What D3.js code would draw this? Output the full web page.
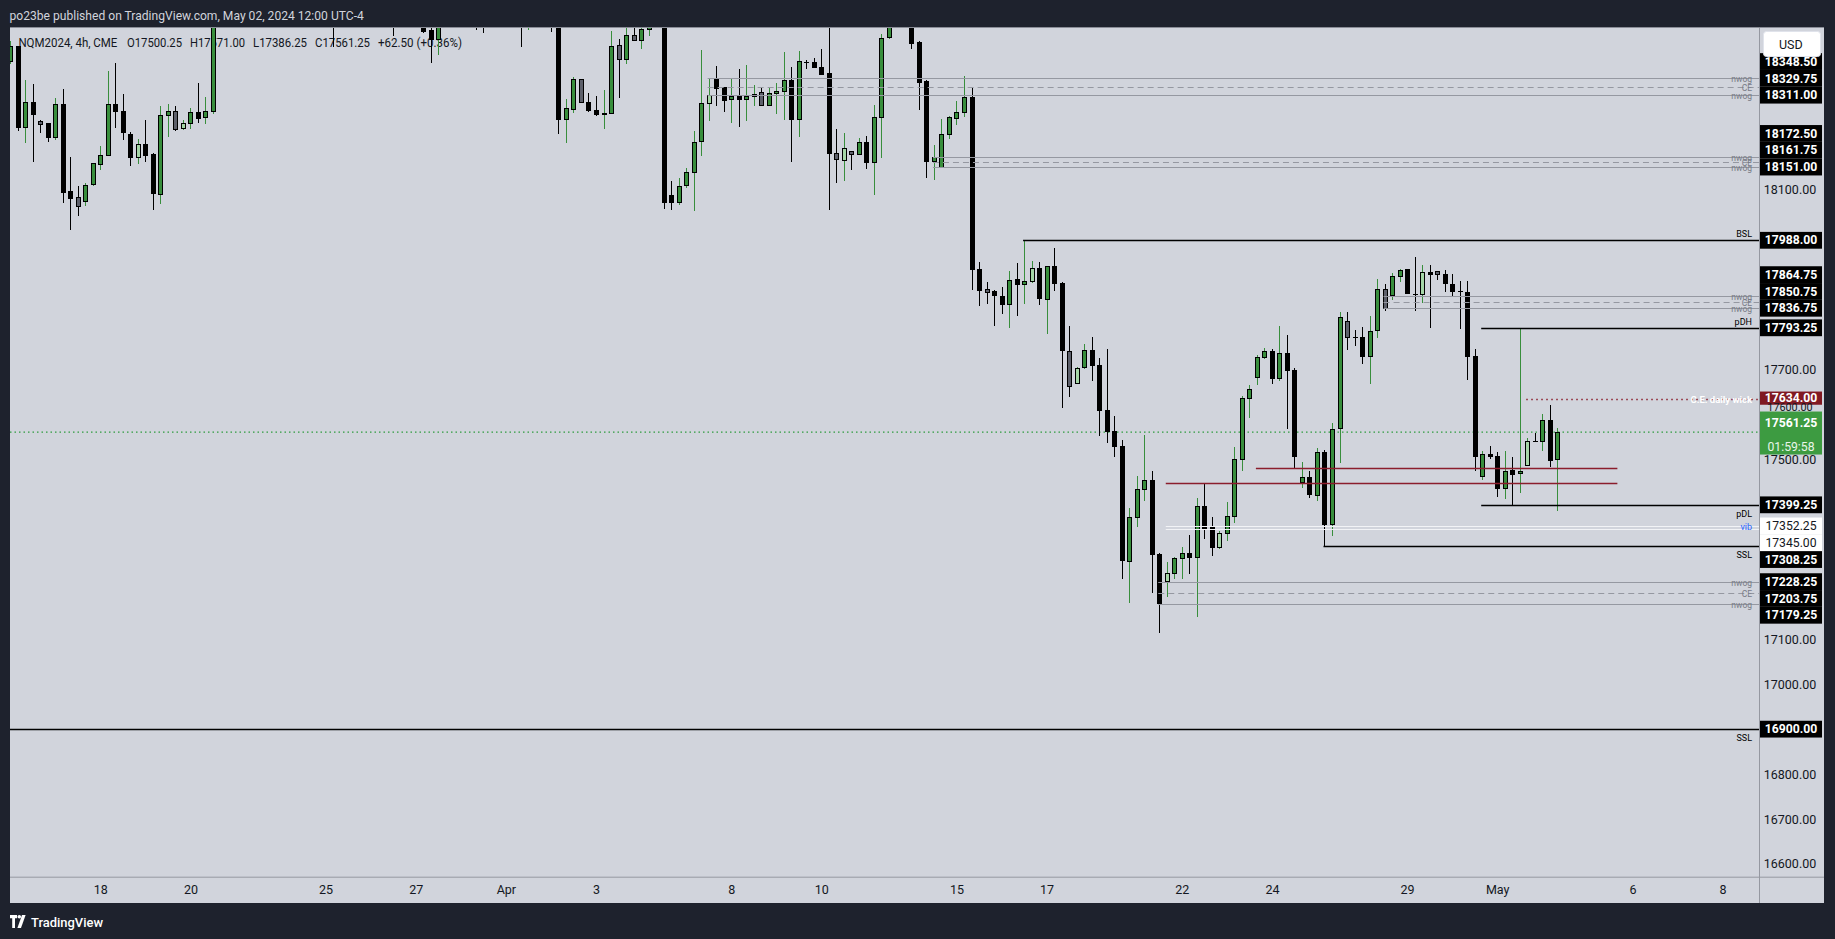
<!DOCTYPE html>
<html><head><meta charset="utf-8">
<script src="https://cdn.jsdelivr.net/npm/d3@7"></script>
<style>
html,body{margin:0;padding:0;background:#1e222d;overflow:hidden}
text{font-family:Roboto,"Noto Sans",sans-serif}
</style></head>
<body><svg id="c" width="1835" height="939"></svg>
<script>
// ---------------- DATA ----------------
const symbolInfo = "NQM2024, 4h, CME";
const publishInfo = "po23be published on TradingView.com, May 02, 2024 12:00 UTC-4";
const countdown = "01:59:58";

const opens = [18386.5,18419.75,18238.75,18295,18252.75,18247,18217.25,18290.75,18095.5,18083.75,
18074.75,18112.5,18157,18177.25,18290.75,18275,18224,18172.75,18201.75,18180,
18090.5,18266.25,18275,18235.75,18248.5,18273,18261.75,18275,18480,18550,
18600,18625,18670,18630,18600,18585,18575,18600,18570,18620,
18590,18555,18530,18500,18480,18530,18545,18560,18550,18590,
18575,18530,18475,18490,18495,18480,18454.5,18434,18515,18530,
18525,18545,18560,18495,18490,18530,18550,18540,18560,18490,
18530,18490,18495,18480,18256.5,18279.5,18346.25,18295,18277.25,18267.75,
18270,18420.5,18390,18442.75,18432.5,18457,18485,18505,18088,18071.75,
18109.75,18138.5,18207.5,18293,18348.5,18327,18301.75,18308.5,18301.75,18307.75,
18317.5,18287.75,18315.25,18319.5,18344,18256.5,18382.75,18382.75,18373,18358.25,
18181.5,18166,18186,18179.5,18206,18160.75,18261.75,18439,18475,18495,
18480,18427.25,18340.5,18163,18151,18223.25,18258.75,18272,18306.25,17923.5,
17879,17873,17863.25,17844.75,17899.75,17890,17896,17925.5,17856.5,17930,
17892.25,17741,17669.75,17705.25,17743.25,17709.75,17609.5,17561.5,17529.5,17273.5,
17371.5,17433.75,17453.75,17289,17228.25,17246.75,17279.5,17291.5,17282.5,17396,
17351.5,17304,17335,17373,17499.75,17635.5,17682.25,17727,17741,17680,
17736.5,17698.75,17448.5,17460.5,17419.75,17516,17355.25,17569.5,17807.75,17772,
17772,17729.75,17787.5,17879,17864.75,17907.75,17923.5,17867.75,17867.75,17916.75,
17919,17912.25,17890,17874.5,17872.25,17729.75,17462,17511.5,17507.25,17435.25,
17476,17468.75,17486.5,17540.5,17540,17587.5,17500.25];
const highs = [18431.5,18421,18344,18335.25,18255,18249,18304.75,18324.75,18173.5,18108.25,
18116.25,18160,18198,18365,18382.75,18313.75,18228.5,18212.75,18255.75,18182,
18287.75,18292.25,18287,18255,18283.25,18338.25,18307,18500,18560,18610,
18640,18690,18695,18650,18620,18600,18610,18625,18630,18640,
18600,18570,18550,18520,18540,18560,18570,18575,18600,18610,
18600,18545,18500,18510,18505,18490,18475,18525,18540,18550,
18560,18575,18585,18520,18540,18560,18575,18570,18580,18540,
18545,18510,18505,18490,18302.5,18351.5,18346.25,18316,18309.25,18322.5,
18453.75,18435.5,18475,18465,18470,18495,18520,18515,18120,18126.75,
18149,18231.25,18411.5,18346.25,18376,18328.5,18347,18369.25,18378.25,18333,
18327,18328.5,18338.25,18407.25,18373.75,18409.5,18388.5,18393.75,18413.75,18480,
18235.75,18227,18187,18215,18220.25,18288.5,18446.5,18490,18510,18520,
18500,18431,18344,18199.5,18257.25,18264,18298,18353,18329.25,17939.75,
17895.25,17877.5,17884,17919.75,17937.5,17988,17942,17939.75,17930,17971,
17895.25,17797.25,17706,17757.25,17772.75,17726,17746,17597,17543.5,17392.25,
17463.5,17554.75,17474.5,17291,17272,17284,17305.5,17332.25,17414.5,17448,
17372.25,17341,17405.5,17528,17641.5,17666,17732.75,17748.5,17746,17797.25,
17777.25,17703,17494,17474,17525.75,17520.5,17581.5,17827.75,17827.75,17788.5,
17794.25,17818.75,17901.25,17890,17914.5,17924.25,17923.5,17951,17933,17933,
17919,17922,17913,17897.5,17897.5,17746,17519,17530,17517,17519,
17505.75,17793.25,17547.25,17560,17601.5,17620.75,17571];
const lows = [18379.75,18231.25,18205.5,18163,18227,18206.75,18212,18071.75,18010.25,18043,
18065,18109.75,18143.75,18175,18238.75,18210.5,18154.25,18158.5,18163,18056.25,
18069.5,18218.75,18230.5,18232.75,18236.5,18248.5,18247,18270,18470,18540,
18585,18615,18610,18580,18570,18560,18565,18560,18550,18590,
18540,18520,18490,18418,18470,18505,18535,18540,18545,18560,
18520,18443,18468,18475,18470,18450,18382,18401,18500,18515,
18518,18530,18457,18449,18480,18515,18530,18510,18419,18455,
18460,18460,18452,18225.5,18205.5,18272,18294.5,18274.5,18264.75,18236.5,
18268,18305.5,18381.25,18432.5,18413.75,18442.75,18470,18058.5,18056.25,18067.5,
18105.25,18054,18176.5,18254.25,18287.75,18274.5,18250,18241,18254.25,18287.75,
18287.75,18287.75,18269.25,18256.5,18163,18218.75,18370,18372.25,18356.75,18056.25,
18116.25,18120.75,18145.25,18179.5,18147.5,18089.5,18172,18436.75,18468,18470,
18413.75,18278.75,18127.5,18123,18150.5,18214.25,18245.5,18262.5,17877.5,17842.5,
17847,17797.25,17824,17793.5,17819.5,17847,17892.25,17844.75,17780.25,17876,
17615.5,17640,17669.75,17702.25,17675,17553.25,17537.5,17506.5,17235,17181.5,
17350.5,17408.5,17203.75,17114,17194.75,17234.25,17235,17245.5,17150,17324,
17286.25,17300.25,17319.5,17359.5,17474.5,17593.25,17666.75,17724.5,17669,17675,
17568,17482,17437.5,17414.5,17408.5,17308.25,17330,17493.25,17744,17753.5,
17713.5,17669,17771.25,17831.5,17855.25,17896,17869.25,17831.5,17847.75,17793.5,
17900.5,17873.75,17862.5,17791.5,17677.75,17475.25,17455.25,17502,17417.5,17413,
17399.25,17425.5,17486.5,17540.5,17520,17484.25,17386.25];
const closes = [18419.75,18238.75,18295,18267.75,18246.25,18216.5,18290.75,18094,18080.75,18063.75,
18109.75,18158,18177.25,18290.75,18274.5,18227.5,18172.75,18201.75,18177.25,18092.5,
18266.25,18274.5,18235,18248.5,18273,18258.75,18275,18480,18550,18600,
18625,18670,18630,18600,18585,18575,18600,18570,18620,18605,
18555,18530,18500,18480,18530,18545,18560,18550,18590,18575,
18530,18475,18490,18495,18480,18453,18434,18515,18530,18525,
18545,18560,18495,18480,18530,18550,18540,18560,18490,18530,
18490,18495,18480,18256.5,18280.25,18346.25,18294.5,18276.5,18267.75,18270.5,
18418.25,18390,18442.75,18432.5,18457.5,18485,18505,18071.75,18071.75,18108.25,
18139.25,18206,18293,18311,18325.5,18298.75,18308.5,18301.75,18308.5,18313,
18287.75,18315.25,18319.5,18344,18256.5,18386.5,18382.75,18372.25,18356.75,18181,
18168.25,18192.75,18180,18206,18160.75,18261.75,18437.5,18475,18495,18480,
18425.75,18339,18163,18172.5,18224,18260.25,18273,18306.25,17923.5,17876,
17872.25,17864.75,17844.75,17899,17888.5,17895.25,17925.5,17858,17930,17892.25,
17742.5,17663,17703,17743.25,17709.75,17608.75,17561.5,17528.75,17275,17371.5,
17433.75,17453.75,17288.25,17179.25,17246.75,17280.25,17291.5,17282.5,17396,17344,
17304,17336,17373.75,17500.5,17636.25,17656.5,17727.5,17741,17680,17736.5,
17698,17506.5,17460.5,17422,17516,17355.25,17567.25,17816.5,17772,17772,
17729.75,17785.5,17879,17836.75,17908.5,17921.25,17869.25,17867.75,17916.75,17912.25,
17912.25,17892.25,17873.75,17874.5,17729,17506.5,17511.5,17506.5,17435.25,17473.75,
17466.5,17473.75,17540.5,17540.5,17587.5,17498.75,17561.25];

// time-axis labels: text and bar index of the label (the 02:00 bar of that day)
const dayLabels = ["18","20","25","27","Apr","3","8","10","15","17","22","24","29","May","6","8"];
const dayLabelBars = [12,24,42,54,66,78,96,108,126,138,156,168,186,198,216,228];

// price-axis ticks
const priceTicks = d3.range(16600, 18401, 100);

// drawn levels
const levelPrices = [18348.5,18329.75,18311,18172.5,18161.75,18151,17988,17864.75,17850.75,17836.75,
  17793.25,17634,17480.75,17447.25,17399.25,17352.25,17345,17308.25,17228.25,17203.75,17179.25,16900];
const levelTypes  = ["nwog","ce","nwog","nwog","ce","nwog","liqAbove","nwog","ce","nwog",
  "liqAbove","ceWick","fvg","fvg","liqBelow","vib","vib","liqBelow","nwog","ce","nwog","liqBelow"];
const levelLabels = ["nwog","CE","nwog","nwog","CE","nwog","BSL","nwog","CE","nwog",
  "pDH","C.E. daily wick","","","pDL","vib","","SSL","nwog","CE","nwog","SSL"];
const levelStartBar = [93,93,93,123,123,123,135,183,183,183,196,202,166,154,196,154,154,175,153,153,153,-3];
const levelEndBar   = [null,null,null,null,null,null,null,null,null,null,null,null,214,214,null,null,null,null,null,null,null,null];

// ---------------- LAYOUT ----------------
const W = 1835, H = 939;
const plot = {l:10, t:27, r:1759, b:876.7};
const panel = {l:10, t:27, r:1824, b:903};
const svg = d3.select("#c");

const x = d3.scaleLinear().domain([0, 206]).range([10.2, 1557.3]);
const y = d3.scaleLinear().domain([16571.6, 18462.7]).range([plot.b, plot.t]);

const C = {
  frame:"#1e222d", bg:"#d1d4dc", axisLine:"#9598a1", text:"#131722",
  bull:"#388e3c", bear:"#000000", insideBull:"#a5d6a7", insideBear:"#5d606b",
};

svg.append("rect").attr("width",W).attr("height",H).attr("fill",C.frame);
svg.append("rect").attr("x",panel.l).attr("y",panel.t).attr("width",panel.r-panel.l).attr("height",panel.b-panel.t).attr("fill",C.bg);

// header text
svg.append("text").attr("x",9.5).attr("y",19.5).attr("fill","#d1d4dc").attr("font-size",12.1).text(publishInfo);

const defs = svg.append("defs");
defs.append("clipPath").attr("id","plotClip").append("rect")
  .attr("x",plot.l).attr("y",plot.t).attr("width",plot.r-plot.l).attr("height",plot.b-plot.t);

const g = svg.append("g").attr("clip-path","url(#plotClip)");

// legend (drawn below candles)
const n = closes.length, last = n-1;
const chg = closes[last]-closes[last-1];
const fmt = d3.format(".2f");
const sign = v => (v>=0?"+":"");
const legendParts = [
  symbolInfo,
  "O"+fmt(opens[last]), "H"+fmt(highs[last]), "L"+fmt(lows[last]), "C"+fmt(closes[last]),
  `${sign(chg)}${fmt(chg)} (${sign(chg)}${fmt(chg/closes[last-1]*100)}%)`
];
const legendSlots = [[18.4,99],[127,55],[190,55],[253,54],[315,55],[378,84]];
const lgT = g.append("g");
legendParts.forEach((t,i)=>{
  lgT.append("text").attr("x",legendSlots[i][0]).attr("y",46.5).attr("fill",C.text)
    .attr("font-size",12.6).attr("textLength",legendSlots[i][1]).attr("lengthAdjust","spacingAndGlyphs").text(t);
});

// current price line
g.append("line").attr("x1",plot.l).attr("x2",plot.r).attr("y1",y(closes[last])).attr("y2",y(closes[last]))
  .attr("stroke","#2e9b3e").attr("stroke-width",1.3).attr("stroke-dasharray","1.5,3");

// candles
const bars = d3.range(n).map(i => {
  const o=opens[i], h=highs[i], l=lows[i], c=closes[i];
  const inside = i>0 && h<=highs[i-1] && l>=lows[i-1];
  const up = c>o;
  return {i,o,h,l,c,inside,up};
});
const cg = g.append("g").attr("shape-rendering","crispEdges");
const cand = cg.selectAll("g.c").data(bars).join("g").attr("class","c");
cand.append("line")
  .attr("x1",d=>Math.round(x(d.i))+0.5).attr("x2",d=>Math.round(x(d.i))+0.5)
  .attr("y1",d=>y(d.h)).attr("y2",d=>y(d.l))
  .attr("stroke",d=>d.up?C.bull:C.bear).attr("stroke-width",1);
cand.append("rect")
  .attr("x",d=>Math.round(x(d.i))-1.5).attr("width",4)
  .attr("y",d=>y(Math.max(d.o,d.c)))
  .attr("height",d=>Math.max(0.01,Math.abs(y(d.o)-y(d.c))))
  .attr("fill",d=>d.up?(d.inside?C.insideBull:C.bull):(d.inside?C.insideBear:C.bear))
  .attr("stroke","#000").attr("stroke-width",1);

// levels
const levelStyle = {
  nwog:{stroke:"#9598a1",dash:null,w:1,label:"#787b86",pos:"mid",weight:400,fs:8.5},
  ce:{stroke:"#9598a1",dash:"6,4",w:1,label:"#787b86",pos:"mid",weight:400,fs:8.5},
  liqAbove:{stroke:"#000",dash:null,w:1.3,label:"#000",pos:"above",weight:400,fs:9},
  liqBelow:{stroke:"#000",dash:null,w:1.3,label:"#000",pos:"below",weight:400,fs:9},
  ceWick:{stroke:"#8b1d2c",dash:"1.5,3.5",w:1.5,label:"#ffffff",pos:"mid",weight:700,fs:9.5},
  fvg:{stroke:"#8b1d2c",dash:null,w:1.3,label:"#000",pos:"mid",weight:400,fs:9},
  vib:{stroke:"#f2f3f6",dash:null,w:1,label:"#2962ff",pos:"mid",weight:400,fs:9},
};
const lv = levelPrices.map((p,i)=>({p,i,type:levelTypes[i],label:levelLabels[i],s:levelStartBar[i],e:levelEndBar[i]}));
const lg = g.append("g");
lv.forEach(d=>{
  const st = levelStyle[d.type];
  const yy = Math.round(y(d.p))+0.5;
  lg.append("line").attr("x1",Math.max(plot.l,x(d.s)-1)).attr("x2",d.e==null?plot.r:x(d.e))
    .attr("y1",yy).attr("y2",yy).attr("stroke",st.stroke).attr("stroke-width",st.w)
    .attr("stroke-dasharray",st.dash);
});
lv.forEach(d=>{
  const st = levelStyle[d.type];
  if (!d.label) return;
  const yy = Math.round(y(d.p))+0.5;
  const ty = st.pos==="above"? yy-4 : st.pos==="below"? yy+11 : yy+3.2;
  const t = lg.append("text").attr("y",ty)
    .attr("font-size",st.fs).attr("font-weight",st.weight).attr("fill",st.label).text(d.label);
  // right-aligned to the edge of the plot, expressed with a start anchor
  t.attr("x", 1752 - t.node().getComputedTextLength());
});

// ---------------- AXES ----------------
svg.append("line").attr("x1",plot.r+0.5).attr("x2",plot.r+0.5).attr("y1",panel.t).attr("y2",panel.b).attr("stroke",C.axisLine);
svg.append("line").attr("x1",panel.l).attr("x2",panel.r).attr("y1",plot.b+0.5).attr("y2",plot.b+0.5).attr("stroke",C.axisLine);
svg.append("line").attr("x1",panel.l).attr("x2",panel.r).attr("y1",panel.t+0.5).attr("y2",panel.t+0.5).attr("stroke","#8a8d97");

// time axis via d3 axis
const xAxis = d3.axisBottom(x).tickValues(dayLabelBars).tickFormat((d,i)=>dayLabels[i]).tickSize(0).tickPadding(0);
const xa = svg.append("g").attr("transform",`translate(0,${885})`).call(xAxis);
xa.select(".domain").remove();
xa.selectAll("text").attr("font-size",12.5).attr("fill",C.text).attr("font-family","Roboto, sans-serif");

// badge layout (collision: above last price pushed up, below pushed down)
const badgeH = 16.8, bx = plot.r+1, bw = 62;
const lastClose = closes[last];
const bItems = lv.filter(d=>d.type!=="fvg").map(d=>({...d, y0:y(d.p)}));
const above = bItems.filter(d=>d.p>lastClose).sort((a,b)=>b.y0-a.y0);
let prev = Infinity;
above.forEach(d=>{ d.by = Math.min(d.y0, prev-badgeH); prev = d.by; });
const below = bItems.filter(d=>d.p<lastClose).sort((a,b)=>a.y0-b.y0);
prev = -Infinity;
below.forEach(d=>{ d.by = Math.max(d.y0, prev+badgeH); prev = d.by; });
const cy = y(lastClose), cpTop = cy-20.5, cpBot = cy+22.5;
const boxes = [...above, ...below].map(d=>[d.by-badgeH/2, d.by+badgeH/2]);
boxes.push([25, 58]); // USD button region

// price ticks via d3 axis, hiding those covered by badges
const yAxis = d3.axisRight(y).tickValues(priceTicks).tickFormat(d3.format(".2f")).tickSize(0).tickPadding(0);
const ya = svg.append("g").attr("transform",`translate(${1790},0)`).call(yAxis);
ya.select(".domain").remove();
ya.selectAll("text").attr("text-anchor","middle").attr("font-size",12.5).attr("fill",C.text)
  .attr("font-family","Roboto, sans-serif");
ya.selectAll(".tick").each(function(d){
  const ty = y(d);
  const sel = d3.select(this);
  if (ty < plot.t+6 || ty > plot.b-6) { sel.remove(); return; }
  const a = ty-6, b = ty+6;
  const overCp = Math.min(b,cpBot)-Math.max(a,cpTop);
  if (overCp > 4) {
    if (ty < cy) {
      // squeezed just above the last-price badge
      sel.attr("transform",`translate(0,${cpTop-3.8})`);
      sel.select("text").attr("font-size",10.8);
    } else sel.remove();
    return;
  }
  const covered = boxes.some(([t,bt]) => Math.min(b,bt)-Math.max(a,t) > 4);
  if (covered) sel.remove();
});

const bg = svg.append("g");
[...above, ...below].forEach(d=>{
  let fill="#000", tcol="#fff", fw=700, bh=badgeH, top=d.by-badgeH/2;
  if (d.type==="vib") { fill="#ffffff"; tcol=C.text; fw=400; }
  if (d.type==="ceWick") { fill="#801922"; bh=13.2; top=d.by-7.8; }
  bg.append("rect").attr("x",bx).attr("y",top).attr("width",bw).attr("height",bh).attr("fill",fill);
  bg.append("text").attr("x",bx+bw/2).attr("y",top+bh/2+4.2).attr("text-anchor","middle")
    .attr("font-size",12.2).attr("font-weight",fw).attr("fill",tcol).text(fmt(d.p));
});
// current price badge
bg.append("rect").attr("x",bx).attr("y",cpTop).attr("width",bw).attr("height",cpBot-cpTop).attr("fill","#3d9b41");
bg.append("text").attr("x",bx+bw/2).attr("y",cy-4.6).attr("text-anchor","middle").attr("font-size",12.2)
  .attr("font-weight",700).attr("fill","#fff").text(fmt(lastClose));
bg.append("text").attr("x",bx+bw/2).attr("y",cy+18.6).attr("text-anchor","middle").attr("font-size",12.2)
  .attr("fill","#e8f5e9").text(countdown);
ya.raise();

// USD button
svg.append("rect").attr("x",1763.5).attr("y",31.5).attr("width",57).attr("height",25).attr("rx",3)
  .attr("fill","#fff").attr("stroke","#e0e3eb");
svg.append("text").attr("x",1779).attr("y",48.5).attr("font-size",12.5).attr("fill",C.text).text("USD");

// footer logo
const lo = svg.append("g").attr("transform","translate(10,915)").attr("fill","#fff");
lo.append("path").attr("d","M0 0h7v3.2H5V13H2.2V3.2H0z");
lo.append("circle").attr("cx",9.3).attr("cy",1.8).attr("r",1.8);
lo.append("path").attr("d","M12 0h3.6L11 13H7.4z");
svg.append("text").attr("x",31).attr("y",926.5).attr("font-size",12.5).attr("font-weight",500)
  .attr("fill","#fff").attr("textLength",72).attr("lengthAdjust","spacingAndGlyphs").text("TradingView");
</script></body></html>
